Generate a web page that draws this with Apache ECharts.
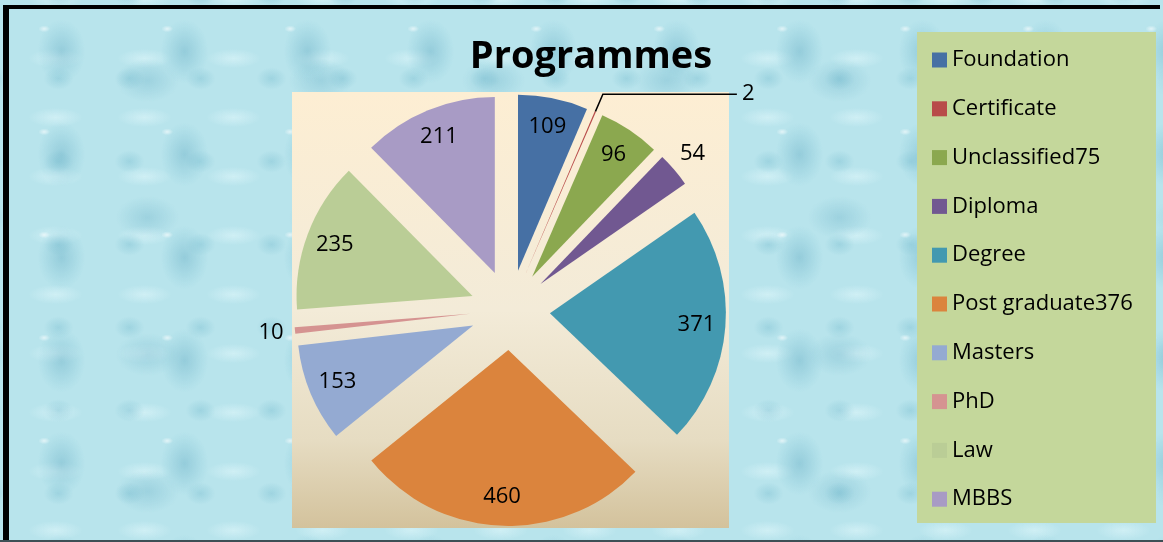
<!DOCTYPE html>
<html lang="en">

<head>
    <meta charset="UTF-8">
    <title>Programmes</title>
    <script src="https://cdn.jsdelivr.net/npm/echarts@6/dist/echarts.min.js"></script>
    <style>
        html, body {
            margin: 0;
            padding: 0;
            background: #fff;
        }

        #wrap {
            position: relative;
            width: 1163px;
            height: 542px;
            overflow: hidden;
            background-color: #b8e4ec;
            /* rough stand-in for the water drop texture */
            background-image:
                radial-gradient(ellipse 7px 4px at 36% 28%, rgba(255, 255, 255, .6), rgba(255, 255, 255, 0) 85%),
                radial-gradient(ellipse 30px 40px at 50% 50%, rgba(100, 172, 195, .42) 0%, rgba(150, 208, 222, .22) 62%, rgba(150, 208, 222, 0) 80%),
                radial-gradient(ellipse 20px 15px at 50% 50%, rgba(110, 182, 202, .35), rgba(110, 182, 202, 0) 75%),
                radial-gradient(ellipse 44px 30px at 50% 50%, rgba(100, 172, 195, .32), rgba(100, 172, 195, 0) 72%),
                radial-gradient(ellipse 34px 12px at 50% 50%, rgba(230, 250, 253, .5), rgba(230, 250, 253, 0) 80%);
            background-size: 123px 103px, 123px 103px, 71px 83px, 173px 137px, 89px 59px;
            background-position: 0 0, 0 0, 23px 37px, 61px 12px, 11px 29px;
        }

        #main {
            position: absolute;
            left: 0;
            top: 0;
            width: 1163px;
            height: 542px;
        }

        .edge {
            position: absolute;
            z-index: 5;
        }
    </style>
</head>

<body>
    <div id="wrap">
        <div id="main"></div>
        <div class="edge" style="left:3px;top:5px;width:1157px;height:4px;background:#000"></div>
        <div class="edge" style="left:3px;top:5px;width:6px;height:535px;background:#000"></div>
        <div class="edge" style="left:0;top:540px;width:1163px;height:2px;background:#3d4f55"></div>
    </div>
    <script>
        // data
        var names = ['Foundation', 'Certificate', 'Unclassified75', 'Diploma', 'Degree',
            'Post graduate376', 'Masters', 'PhD', 'Law', 'MBBS'];
        var values = [109, 2, 96, 54, 371, 460, 153, 10, 235, 211];
        var colors = ['#4670a4', '#b84b49', '#8ba84f', '#715891', '#4399b0',
            '#db843d', '#94aad2', '#d59391', '#bacd96', '#a89bc5'];
        // small slices whose number sits just outside the slice
        var outside = ['Diploma', 'PhD'];
        // the one with a leader line
        var leader = 'Certificate';

        var font = '"Open Sans", "Liberation Sans", sans-serif';
        var myChart = echarts.init(document.getElementById('main'));

        function pieData(showFn) {
            return names.map(function (n, i) {
                return {
                    name: n,
                    value: values[i],
                    selected: true,
                    label: { show: showFn(n) }
                };
            });
        }

        var mainData = pieData(function (n) { return n === leader; });
        mainData[names.indexOf(leader)].labelLine = { show: true, length: 19, length2: 134 };

        // transparent twin pies, only used to place the numbers further out
        function labelPie(radius, showFn) {
            return {
                type: 'pie',
                center: [510, 310],
                radius: radius,
                startAngle: 90,
                clockwise: true,
                selectedMode: 'multiple',
                selectedOffset: 40,
                silent: true,
                avoidLabelOverlap: false,
                itemStyle: { color: 'rgba(0,0,0,0)', borderWidth: 0 },
                select: { itemStyle: { color: 'rgba(0,0,0,0)', borderWidth: 0 } },
                label: {
                    position: 'inside',
                    formatter: '{c}',
                    fontFamily: font,
                    fontSize: 22,
                    color: '#000',
                    padding: [7, 0, 0, 0]
                },
                labelLine: { show: false },
                data: pieData(showFn)
            };
        }

        var option = {
            color: colors,
            animation: false,
            title: {
                text: 'Programmes',
                left: 586,
                top: 33,
                textAlign: 'center',
                textStyle: {
                    fontFamily: font,
                    fontWeight: 'bold',
                    fontSize: 38,
                    color: '#000'
                }
            },
            legend: {
                orient: 'vertical',
                left: 927,
                top: 42,
                icon: 'rect',
                itemWidth: 15,
                itemHeight: 15,
                itemGap: 22.8,
                selectedMode: false,
                data: names,
                textStyle: {
                    fontFamily: font,
                    fontSize: 22,
                    lineHeight: 26,
                    color: '#000'
                }
            },
            graphic: [{
                type: 'rect',
                z: -10,
                shape: { x: 292, y: 92, width: 437, height: 436 },
                style: {
                    fill: new echarts.graphic.LinearGradient(0, 0, 0, 1, [
                        { offset: 0, color: '#fdeed3' },
                        { offset: 0.5, color: '#f3ebd8' },
                        { offset: 0.8, color: '#e6dcc2' },
                        { offset: 1, color: '#d3c29c' }
                    ])
                }
            }, {
                type: 'rect',
                z: -10,
                shape: { x: 917, y: 32, width: 239, height: 491 },
                style: { fill: '#c4d79b' }
            }],
            series: [{
                name: 'Programmes',
                type: 'pie',
                center: [510, 310],
                radius: 176,
                startAngle: 90,
                clockwise: true,
                selectedMode: 'multiple',
                selectedOffset: 40,
                avoidLabelOverlap: false,
                emphasis: { disabled: true },
                select: { itemStyle: { borderWidth: 0 } },
                itemStyle: { borderWidth: 0 },
                label: {
                    position: 'outside',
                    formatter: '{c}',
                    fontFamily: font,
                    fontSize: 22,
                    color: '#000'
                },
                labelLine: {
                    show: false,
                    lineStyle: { color: '#000', width: 1.5 }
                },
                data: mainData
            },
            labelPie(288, function (n) { return n !== leader && outside.indexOf(n) < 0; }),
            labelPie(394, function (n) { return outside.indexOf(n) >= 0; })
            ]
        };

        myChart.setOption(option);
    </script>
</body>

</html>
